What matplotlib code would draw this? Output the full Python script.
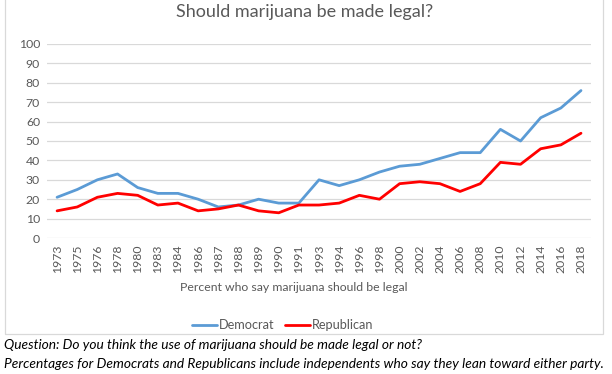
import matplotlib
matplotlib.use('Agg')
import matplotlib.pyplot as plt
from matplotlib.patches import Rectangle
import numpy as np

years = ['1973', '1975', '1976', '1978', '1980', '1983', '1984', '1986', '1987',
         '1988', '1989', '1990', '1991', '1993', '1994', '1996', '1998', '2000',
         '2002', '2004', '2006', '2008', '2010', '2012', '2014', '2016', '2018']
democrat = [21, 25, 30, 33, 26, 23, 23, 20, 16, 17, 20, 18, 18, 30, 27, 30, 34,
            37, 38, 41, 44, 44, 56, 50, 62, 67, 76]
republican = [14, 16, 21, 23, 22, 17, 18, 14, 15, 17, 14, 13, 17, 17, 18, 22, 20,
              28, 29, 28, 24, 28, 39, 38, 46, 48, 54]

plt.rcParams['font.family'] = ['Lato', 'DejaVu Sans']
gray = '#595959'

fig = plt.figure(figsize=(6.12, 3.74), dpi=100)
ax = fig.add_axes([0.0768, 0.3636, 0.889, 0.5188])

x = np.arange(len(years))
ax.plot(x, democrat, color='#5B9BD5', lw=2.0, label='Democrat', solid_capstyle='round')
ax.plot(x, republican, color='#FF0000', lw=2.0, label='Republican', solid_capstyle='round')

ax.set_xlim(-0.5, len(years) - 0.5)
ax.set_ylim(0, 100)
ax.set_yticks(range(0, 101, 10))
ax.set_xticks(x)
ax.set_xticklabels(years, rotation=90)
ax.tick_params(axis='both', length=0, labelsize=8.8, colors=gray, pad=5)
ax.grid(axis='y', color='#D9D9D9', lw=0.9)
ax.set_axisbelow(True)
for s in ax.spines.values():
    s.set_visible(False)

ax.set_xlabel('Percent who say marijuana should be legal', fontsize=8.8, color=gray, labelpad=6)
ax.xaxis.set_label_coords(0.454, -0.225)
fig.text(0.498, 0.968, 'Should marijuana be made legal?', ha='center', va='center',
         fontsize=13, color=gray)

fig.legend(loc='center', bbox_to_anchor=(0.462, 0.131), ncol=2, frameon=False,
           fontsize=9.2, handlelength=2.0, handletextpad=0.15, columnspacing=0.8,
           labelcolor=gray)

fig.patches.append(Rectangle((5 / 612, 1 - 334 / 374), 598 / 612, 334 / 374 + 0.01,
                             transform=fig.transFigure, fill=False,
                             edgecolor='#D9D9D9', lw=0.9))

fig.text(0.006, 0.077, 'Question: Do you think the use of marijuana should be made legal or not?',
         fontsize=9.9, style='italic', color='#000000', va='center')
fig.text(0.006, 0.027, 'Percentages for Democrats and Republicans include independents who say they lean toward either party.',
         fontsize=9.9, style='italic', color='#000000', va='center')

fig.savefig('out.png', dpi=100)
